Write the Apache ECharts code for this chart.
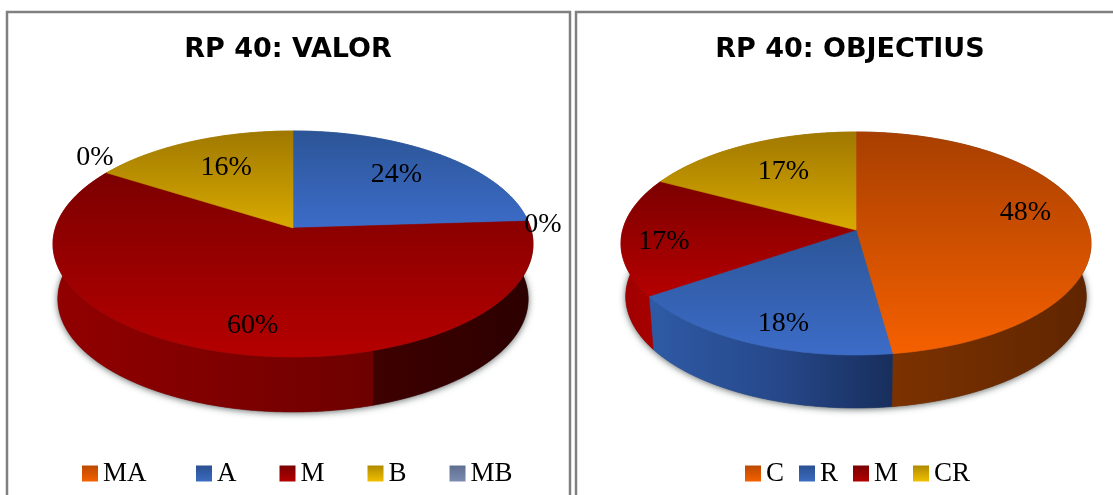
<!DOCTYPE html>
<html><head><meta charset="utf-8">
<style>html,body{margin:0;padding:0;background:#fff}#c{width:1113px;height:495px}</style>
<script src="https://cdn.jsdelivr.net/npm/echarts@6/dist/echarts.min.js"></script>
</head><body><div id="c"></div>
<script>
const valorCategories = ['MA','A','M','B','MB'];
const valorValues = [0,24,60,16,0];
const objectiusCategories = ['C','R','M','CR'];
const objectiusValues = [47.8,17.7,17.2,17.3];
const valorTitle = 'RP 40: VALOR';
const objectiusTitle = 'RP 40: OBJECTIUS';

const SERIF = '"Liberation Serif", serif';
const faceColors = {
  MA:['#a83f00','#f56000'], C:['#a83f00','#f56000'],
  A:['#2c5597','#3c6cc8'], R:['#2c5597','#3c6cc8'],
  M:['#7c0000','#b50000'],
  B:['#a07800','#d8aa00'], CR:['#a07800','#d8aa00'],
  MB:['#5f6f92','#7c8cb0']
};
const legendColors = {
  MA:['#bb4a00','#f56000'], C:['#bb4a00','#f56000'],
  A:['#2a5091','#3c6cc0'], R:['#2a5091','#3c6cc0'],
  M:['#7c0000','#b00000'],
  B:['#b08a00','#f0c000'], CR:['#b08a00','#f0c000'],
  MB:['#5f6f92','#7c8cb0']
};
const LAYOUT = {
  valor:{cx:293, apexY:228, topY:131, botY:357, halfW:240, depth:55, shrink:.98,
    sides:{M:[[53,533],[[0,'#920000'],[.667,'#6e0000'],[.667,'#3e0000'],[1,'#2c0000']]]},
    nudge:{MA:[250,65],A:[0,-2],M:[4,17],B:[5,0],MB:[-198,-2]}},
  objectius:{cx:856, apexY:230, topY:132, botY:355, halfW:235, depth:53, shrink:.98,
    sides:{C:[[891,1091],[[0,'#7c3200'],[1,'#5f2500']]],
           R:[[651,891],[[0,'#2e5aa5'],[.5,'#27498c'],[1,'#182f5e']]],
           M:[[621,660],[[0,'#a00000'],[1,'#a80000']]]},
    nudge:{C:[12,-12],R:[-3,20],M:[-33,7],CR:[4,1]}}
};

function projector(p){
  const s=p.apexY, t=p.topY, b=p.botY;
  const c=(2*s-t-b)/(b-t);
  const a=b*(1+c)-s;
  const R=p.halfW*Math.sqrt(1-c*c);
  return function(frac,r){
    const th=frac*2*Math.PI, u=r*Math.sin(th), v=-r*Math.cos(th), d=1+c*v;
    return [p.cx+R*u/d,(s+a*v)/d];
  };
}
function arc(pt,f0,f1){
  const n=Math.max(2,Math.ceil((f1-f0)*720)), out=[];
  for(let i=0;i<=n;i++) out.push(pt(f0+(f1-f0)*i/n,1));
  return out;
}
const lin=(x0,y0,x1,y1,stops)=>new echarts.graphic.LinearGradient(x0,y0,x1,y1,
  stops.map(s=>({offset:s[0],color:s[1]})),true);

function buildSeries(cats,vals,p){
  const pt=projector(p), total=vals.reduce((a,b)=>a+b,0);
  let cum=0;
  return cats.map((name,i)=>{
    const f0=cum/total, f1=(cum+vals[i])/total; cum+=vals[i];
    return {
      type:'custom', name, coordinateSystem:'none', silent:true, animation:false,
      itemStyle:{color:legendColors[name][1]},
      data:[{name,value:vals[i]}],
      renderItem(params,api){
        const value=api.value(0), kids=[];
        const lower=q=>[p.cx+(q[0]-p.cx)*p.shrink,q[1]+p.depth];
        if(i===0){
          kids.push({type:'polygon',z2:0,shape:{points:arc(pt,0,1).map(lower)},
            style:{fill:'#555',shadowColor:'rgba(40,50,50,.75)',shadowBlur:7,shadowOffsetY:1}});
        }
        if(value>0){
          const top=arc(pt,f0,f1), bottom=top.map(lower).reverse();
          const side=p.sides[name];
          const sideFill=side?lin(side[0][0],0,side[0][1],0,side[1]):faceColors[name][0];
          kids.push({type:'polygon',z2:1,shape:{points:top.concat(bottom)},
            style:{fill:sideFill,stroke:sideFill,lineWidth:.6}});
          const face=[pt(0,0)].concat(top), ys=face.map(q=>q[1]);
          const fill=lin(0,Math.min(...ys),0,Math.max(...ys),[[0,faceColors[name][0]],[1,faceColors[name][1]]]);
          kids.push({type:'polygon',z2:2,shape:{points:face},
            style:{fill,stroke:fill,lineWidth:.6}});
        }
        const a=pt((f0+f1)/2,.68), nudge=p.nudge[name];
        kids.push({type:'text',z2:3,style:{x:a[0]+nudge[0],y:a[1]+nudge[1],text:Math.round(value/total*100)+'%',
          fill:'#000',font:'28px '+SERIF,align:'center',verticalAlign:'middle'}});
        return {type:'group',children:kids};
      }
    };
  });
}
const legendData=cats=>cats.map(name=>({name,itemStyle:{color:new echarts.graphic.LinearGradient(0,0,0,1,
  [{offset:0,color:legendColors[name][0]},{offset:1,color:legendColors[name][1]}])}}));
const legendBase={orient:'horizontal',icon:'rect',itemWidth:16,itemHeight:16,selectedMode:false,
  textStyle:{fontFamily:SERIF,fontSize:27,color:'#000'},padding:0};
const titleBase={textStyle:{fontFamily:'"DejaVu Sans"',fontWeight:'bold',fontSize:27,color:'#000'},textAlign:'center',padding:0};
const frame=(x,y,w,h)=>({type:'rect',shape:{x,y,width:w,height:h},style:{fill:'none',stroke:'#808080',lineWidth:2.5}});

const chart=echarts.init(document.getElementById('c'),null,{renderer:'canvas'});
chart.setOption({
  backgroundColor:'#fff',animation:false,
  title:[Object.assign({text:valorTitle,left:288,top:36},titleBase),
         Object.assign({text:objectiusTitle,left:850,top:36},titleBase)],
  legend:[Object.assign({left:82,top:460,data:legendData(valorCategories.slice(0,1))},legendBase),
          Object.assign({left:196,top:460,itemGap:43,data:legendData(valorCategories.slice(1))},legendBase),
          Object.assign({left:745,top:460,itemGap:15,data:legendData(objectiusCategories)},legendBase)],
  graphic:[frame(7,12,563,490),frame(576,12,545,490)],
  series:[...buildSeries(valorCategories,valorValues,LAYOUT.valor),
          ...buildSeries(objectiusCategories,objectiusValues,LAYOUT.objectius)]
});
</script></body></html>
